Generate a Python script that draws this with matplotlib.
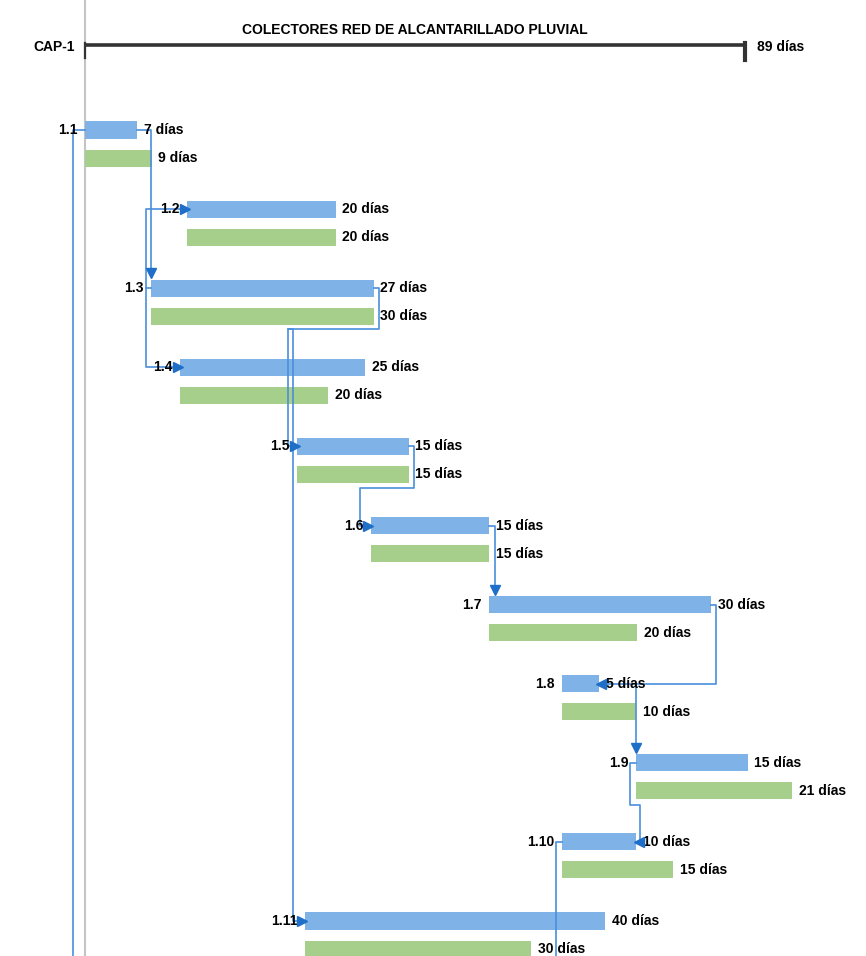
import matplotlib
matplotlib.use('Agg')
import matplotlib.pyplot as plt

plt.rcParams['font.family'] = ['Liberation Sans Narrow', 'Liberation Sans', 'DejaVu Sans']
plt.rcParams['font.weight'] = 'bold'

# datos del diagrama (dias)
tareas = ['1.1', '1.2', '1.3', '1.4', '1.5', '1.6', '1.7', '1.8', '1.9', '1.10', '1.11']
inicio = [0, 13.8, 8.9, 12.8, 28.6, 38.5, 54.4, 64.3, 74.3, 64.3, 29.6]
barra_azul = [7, 20, 30, 25, 15, 16, 30, 5, 15, 10, 40.5]
barra_verde = [9, 20, 30, 20, 15, 16, 20, 10, 21, 15, 30.5]
dias_azul = [7, 20, 27, 25, 15, 15, 30, 5, 15, 10, 40]
dias_verde = [9, 20, 30, 20, 15, 15, 20, 10, 21, 15, 30]
total_dias = 89
titulo = 'COLECTORES RED DE ALCANTARILLADO PLUVIAL'

azul = '#7fb3e8'
verde = '#a6cf8b'
linea = '#4a8fdc'
flecha = '#1f6fc8'
fs = 10

fig = plt.figure(figsize=(8.66, 9.56), dpi=100)
ax = fig.add_axes([0, 0, 1, 1])
ax.set_xlim(-85 / 7.42, (866 - 85) / 7.42)
ax.set_ylim((956 - 130) / 79.1, -130 / 79.1)
ax.axis('off')

h = 0.215
dv = 0.355
fondo = (956 - 130) / 79.1

# linea gris del inicio
ax.plot([0, 0], [-1.65, fondo], color='#c4c4c4', lw=1.5, zorder=1)

# barra resumen CAP-1
yc = -1.075
ax.plot([0, total_dias], [yc, yc], color='#333333', lw=2.6, solid_capstyle='butt', zorder=3)
ax.plot([0, 0], [yc - 0.03, yc + 0.17], color='#333333', lw=1.6, zorder=3)
ax.plot([total_dias, total_dias], [yc - 0.02, yc + 0.19], color='#333333', lw=3, zorder=3)
ax.text(-1.4, yc + 0.03, 'CAP-1', ha='right', va='center', fontsize=fs)
ax.text(total_dias + 1.5, yc + 0.03, f'{total_dias} días', ha='left', va='center', fontsize=fs)
ax.text(44.5, -1.26, titulo, ha='center', va='center', fontsize=10)

fin_azul = []
for i, t in enumerate(tareas):
    ax.barh(i, barra_azul[i], left=inicio[i], height=h, color=azul, zorder=2)
    ax.barh(i + dv, barra_verde[i], left=inicio[i], height=h, color=verde, zorder=2)
    fin_azul.append(inicio[i] + barra_azul[i])
    ax.text(inicio[i] - 1.0, i, t, ha='right', va='center', fontsize=fs, zorder=5)
    ax.text(inicio[i] + barra_azul[i] + 0.9, i, f'{dias_azul[i]} días', ha='left', va='center', fontsize=fs, zorder=5)
    ax.text(inicio[i] + barra_verde[i] + 0.9, i + dv, f'{dias_verde[i]} días', ha='left', va='center', fontsize=fs, zorder=5)


def conector(puntos, punta=None, tipo='>'):
    xs = [p[0] for p in puntos]
    ys = [p[1] for p in puntos]
    ax.plot(xs, ys, color=linea, lw=1.2, solid_joinstyle='round', zorder=4)
    if punta is not None:
        ax.plot(punta[0], punta[1], marker=tipo, color=flecha, markersize=7, zorder=6)


s = inicio
e = fin_azul
b = 0.52
# 1.1 -> abajo (fuera del grafico)
conector([(0, 0), (-1.6, 0), (-1.6, fondo)])
# 1.1 -> 1.3
conector([(e[0], 0), (s[2], 0), (s[2], 2 - h / 2 - 0.05)], (s[2], 2 - h / 2 - 0.08), 'v')
# 1.3 -> 1.2 y 1.4
conector([(s[2], 2), (s[2] - 0.7, 2), (s[2] - 0.7, 1), (s[1] - 0.3, 1)], (s[1] - 0.3, 1), '>')
conector([(s[2] - 0.7, 2), (s[2] - 0.7, 3), (s[3] - 0.3, 3)], (s[3] - 0.3, 3), '>')
# 1.3 -> 1.5 y 1.11
conector([(e[2], 2), (e[2] + 0.7, 2), (e[2] + 0.7, 2 + b), (s[4] - 1.3, 2 + b), (s[4] - 1.3, 4), (s[4] - 0.3, 4)], (s[4] - 0.3, 4), '>')
conector([(s[4] - 1.3, 2 + b), (s[4] - 0.55, 2 + b), (s[4] - 0.55, 10), (s[10] - 0.3, 10)], (s[10] - 0.3, 10), '>')
# 1.5 -> 1.6
conector([(e[4], 4), (e[4] + 0.7, 4), (e[4] + 0.7, 4 + b), (s[5] - 1.5, 4 + b), (s[5] - 1.5, 5), (s[5] - 0.3, 5)], (s[5] - 0.3, 5), '>')
# 1.6 -> 1.7
conector([(e[5], 5), (e[5] + 0.7, 5), (e[5] + 0.7, 6 - h / 2 - 0.05)], (e[5] + 0.7, 6 - h / 2 - 0.08), 'v')
# 1.7 -> 1.8
conector([(e[6], 6), (e[6] + 0.7, 6), (e[6] + 0.7, 7), (e[7] + 0.3, 7)], (e[7] + 0.3, 7), '<')
# 1.8 -> 1.9
conector([(s[8], 7), (s[8], 8 - h / 2 - 0.05)], (s[8], 8 - h / 2 - 0.08), 'v')
# 1.9 -> 1.10
conector([(s[8], 8), (s[8] - 0.8, 8), (s[8] - 0.8, 8 + 0.53), (s[8] + 0.55, 8 + 0.53), (s[8] + 0.55, 9), (e[9] + 0.3, 9)], (e[9] + 0.3, 9), '<')
# 1.10 -> abajo
conector([(s[9], 9), (s[9] - 0.8, 9), (s[9] - 0.8, fondo)])

fig.savefig('out.png', dpi=100)
